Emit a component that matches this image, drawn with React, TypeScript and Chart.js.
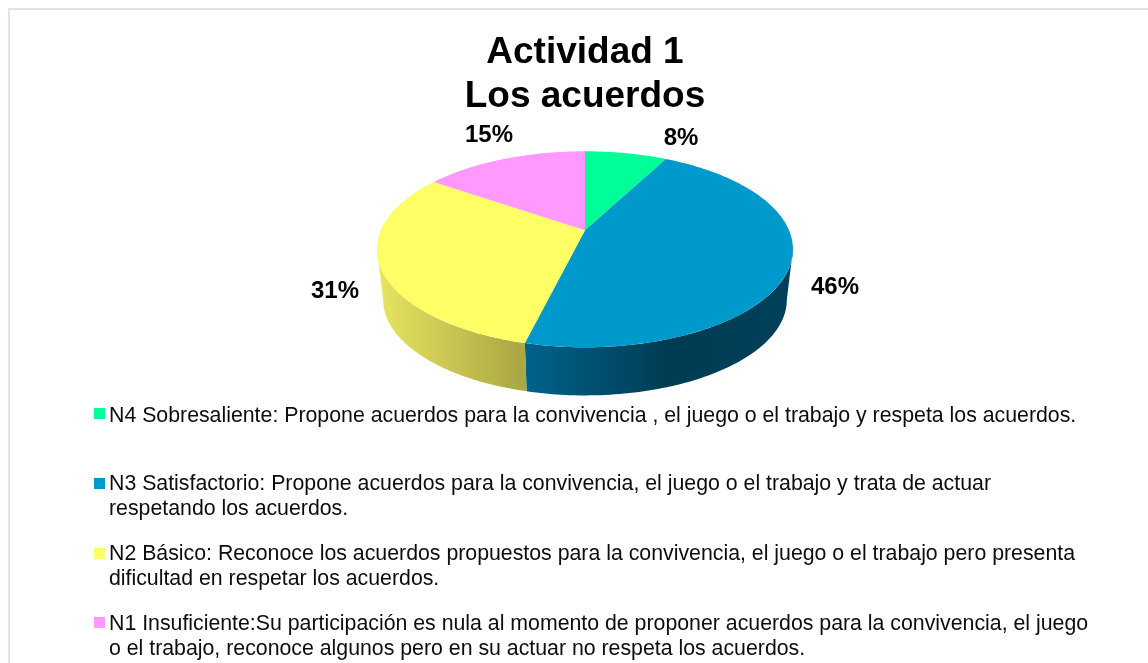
import React, { useEffect, useRef } from "react";
import { Chart, registerables } from "chart.js";

Chart.register(...registerables);

const titleLines = ["Actividad 1", "Los acuerdos"];
const categories = ["N4 Sobresaliente", "N3 Satisfactorio", "N2 Básico", "N1 Insuficiente"];
const values = [7.7, 46.2, 30.8, 15.4];
const sliceColors = ["#00FF99", "#0099CC", "#FFFF66", "#FF99FF"];
const legendLines = [
  ["N4 Sobresaliente: Propone acuerdos para la convivencia , el juego o el trabajo y respeta los acuerdos."],
  ["N3 Satisfactorio: Propone acuerdos para la convivencia, el juego o el trabajo y trata de actuar", "respetando los acuerdos."],
  ["N2 Básico: Reconoce los acuerdos propuestos para la convivencia, el juego o el trabajo pero presenta", "dificultad en respetar los acuerdos."],
  ["N1 Insuficiente:Su participación es nula al momento de proponer acuerdos para la convivencia, el juego", "o el trabajo, reconoce algunos pero en su actuar no respeta los acuerdos."],
];

const FONT = '"Liberation Sans", Arial, sans-serif';
// layout (canvas coordinates = page coordinates minus 10)
const legendBaselines = [411.7, 480, 550, 620];
const legendSwatchTops = [398, 468, 538, 607];
const legendLineGap = 25;
const labelNudges = [[96, -92], [250, 57], [-250, 61], [-96, -95]];

// perspective projection of the pie disc
const K = 0.194;
const TOP = { a: 204, b: 94.3, dy: 0 };
const BOTTOM = { a: 198, b: 92, dy: 51 };

type Geo = { a: number; b: number; dy: number };
const project = (x0: number, y0: number, g: Geo, t: number) => {
  const u = Math.cos(t);
  const v = Math.sin(t);
  const w = 1 - K * v;
  return [x0 + (g.a * u) / w, y0 + g.dy + (g.b * v) / w];
};

const pie3d = {
  id: "pie3d",
  beforeDatasetsDraw(chart: any) {
    const ctx = chart.ctx as CanvasRenderingContext2D;
    const arcs = chart.getDatasetMeta(0).data as any[];
    const x0 = arcs[0].x;
    const y0 = arcs[0].y;
    const tMin = Math.asin(K);
    const tMax = Math.PI - tMin;

    const wall = (s: number, e: number, fill: CanvasGradient) => {
      const from = Math.max(s, tMin);
      const to = Math.min(e, tMax);
      if (to <= from) return;
      const n = 80;
      ctx.beginPath();
      for (let i = 0; i <= n; i++) {
        const p = project(x0, y0, TOP, from + ((to - from) * i) / n);
        i ? ctx.lineTo(p[0], p[1]) : ctx.moveTo(p[0], p[1]);
      }
      for (let i = n; i >= 0; i--) {
        const p = project(x0, y0, BOTTOM, from + ((to - from) * i) / n);
        ctx.lineTo(p[0], p[1]);
      }
      ctx.closePath();
      ctx.fillStyle = fill;
      ctx.fill();
    };

    const blueGrad = ctx.createLinearGradient(x0 - 60, 0, x0 + 205, 0);
    blueGrad.addColorStop(0, "#00628A");
    blueGrad.addColorStop(0.55, "#003C52");
    blueGrad.addColorStop(1, "#004059");
    const yellowGrad = ctx.createLinearGradient(x0 - 205, 0, x0 - 58, 0);
    yellowGrad.addColorStop(0, "#E6E460");
    yellowGrad.addColorStop(1, "#A8A543");
    const grads: Record<number, CanvasGradient> = { 1: blueGrad, 2: yellowGrad };

    arcs.forEach((el, i) => {
      if (grads[i]) wall(el.startAngle, el.endAngle, grads[i]);
    });

    arcs.forEach((el, i) => {
      const n = 120;
      ctx.beginPath();
      ctx.moveTo(x0, y0);
      for (let j = 0; j <= n; j++) {
        const p = project(x0, y0, TOP, el.startAngle + ((el.endAngle - el.startAngle) * j) / n);
        ctx.lineTo(p[0], p[1]);
      }
      ctx.closePath();
      ctx.fillStyle = sliceColors[i];
      ctx.fill();
    });

    const total = values.reduce((s, v) => s + v, 0);
    ctx.fillStyle = "#000";
    ctx.font = `bold 24px ${FONT}`;
    ctx.textAlign = "center";
    ctx.textBaseline = "middle";
    arcs.forEach((_, i) => {
      const text = `${Math.round((values[i] / total) * 100)}%`;
      ctx.fillText(text, x0 + labelNudges[i][0], y0 + labelNudges[i][1]);
    });
    return false;
  },
  afterDraw(chart: any) {
    const ctx = chart.ctx as CanvasRenderingContext2D;
    ctx.save();
    ctx.font = `21.3px ${FONT}`;
    ctx.textAlign = "left";
    ctx.textBaseline = "alphabetic";
    legendLines.forEach((lines, i) => {
      ctx.fillStyle = sliceColors[i];
      ctx.fillRect(84, legendSwatchTops[i], 11, 11);
      ctx.fillStyle = "#0d0d0d";
      lines.forEach((line, j) => {
        ctx.fillText(line, 99, legendBaselines[i] + j * legendLineGap);
      });
    });
    ctx.restore();
  },
};

export default function App() {
  const ref = useRef<HTMLCanvasElement>(null);
  useEffect(() => {
    const chart = new Chart(ref.current!, {
      type: "pie",
      data: {
        labels: categories,
        datasets: [{ data: values, backgroundColor: sliceColors, borderWidth: 0 }],
      },
      options: {
        responsive: false,
        animation: false,
        devicePixelRatio: 1,
        layout: { padding: { left: 12, right: 0, top: 0, bottom: 321 } },
        plugins: {
          legend: { display: false },
          tooltip: { enabled: false },
          title: {
            display: true,
            text: titleLines,
            color: "#000",
            align: "center",
            font: { family: FONT, size: 37, weight: "bold", lineHeight: 1.176 },
            padding: { top: 21.5, bottom: 0 },
          },
        },
      },
      plugins: [pie3d],
    } as any);
    return () => chart.destroy();
  }, []);
  return (
    <div
      style={{
        position: "absolute",
        left: 8,
        top: 8,
        width: 1140,
        height: 655,
        boxSizing: "border-box",
        overflow: "hidden",
        borderTop: "2px solid #DFE4E8",
        borderLeft: "2px solid #DFE4E8",
        background: "#fff",
      }}
    >
      <canvas ref={ref} width={1138} height={653} style={{ display: "block" }} />
    </div>
  );
}
